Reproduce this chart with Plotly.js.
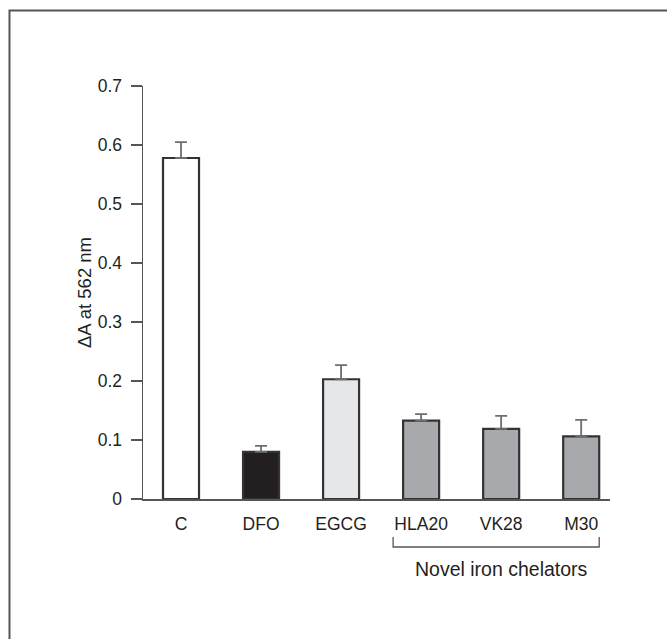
<!DOCTYPE html>
<html>
<head>
<meta charset="utf-8">
<script src="https://cdn.plot.ly/plotly-3.0.1.min.js"></script>
<style>html,body{margin:0;padding:0;background:#fff;}#chart{width:667px;height:639px;}</style>
</head>
<body>
<div id="chart"></div>
<script>
const categories = ["C", "DFO", "EGCG", "HLA20", "VK28", "M30"];
const values = [0.578, 0.080, 0.203, 0.133, 0.119, 0.106];
const errors = [0.027, 0.010, 0.024, 0.011, 0.022, 0.028];
const barColors = ["#ffffff", "#231f20", "#e6e7e8", "#a7a9ac", "#a7a9ac", "#a7a9ac"];
const yTicks = [0, 0.1, 0.2, 0.3, 0.4, 0.5, 0.6, 0.7];
const yTickLabels = ["0", "0.1", "0.2", "0.3", "0.4", "0.5", "0.6", "0.7"];
const groupLabel = "Novel iron chelators";
const groupStart = "HLA20", groupEnd = "M30";

const font = "Liberation Sans, Arial, sans-serif";
const i0 = categories.indexOf(groupStart), i1 = categories.indexOf(groupEnd);

const trace = {
  type: "bar",
  x: categories,
  y: values,
  width: 0.45,
  marker: {color: barColors, line: {color: "#333", width: 2.2}},
  error_y: {type: "data", array: errors, arrayminus: errors.map(() => 0), symmetric: false,
            color: "#6d6e71", thickness: 1.8, width: 6},
  hoverinfo: "none"
};

const layout = {
  width: 667, height: 639,
  margin: {l: 143, r: 57, t: 86, b: 140},
  paper_bgcolor: "#fff", plot_bgcolor: "#fff",
  showlegend: false,
  font: {family: font, color: "#231f20"},
  xaxis: {
    type: "category",
    range: [-0.475, 5.36],
    showgrid: false, zeroline: false,
    showline: true, linecolor: "#555", linewidth: 1.5,
    ticks: "", tickfont: {size: 17.5, family: font, color: "#231f20"},
    ticklabelstandoff: 8
  },
  yaxis: {
    range: [0, 0.7],
    tickvals: yTicks, ticktext: yTickLabels,
    showgrid: false, zeroline: false,
    showline: true, linecolor: "#555", linewidth: 1.5,
    ticks: "outside", ticklen: 11, tickwidth: 1.5, tickcolor: "#555",
    ticklabelstandoff: 5,
    tickfont: {size: 17.5, family: font, color: "#231f20"},
    title: {text: "ΔA at 562 nm", font: {size: 18.5, family: font, color: "#231f20"}, standoff: 1}
  },
  shapes: [
    {type: "rect", xref: "paper", yref: "paper", x0: -0.2859, x1: 1.5, y0: -1, y1: 1.1828,
     line: {color: "#555", width: 2}, fillcolor: "rgba(0,0,0,0)", layer: "below"},
    {type: "path", xref: "x", yref: "paper",
     path: `M ${i0 - 0.35} -0.092 L ${i0 - 0.35} -0.1162 L ${i1 + 0.225} -0.1162 L ${i1 + 0.225} -0.092`,
     line: {color: "#555", width: 1.3}}
  ],
  annotations: [
    {text: groupLabel, xref: "x", yref: "paper", x: (i0 + i1) / 2, y: -0.1695,
     showarrow: false, xanchor: "center", yanchor: "middle",
     font: {size: 19.5, family: font, color: "#231f20"}}
  ]
};

Plotly.newPlot("chart", [trace], layout, {staticPlot: true, displayModeBar: false});
</script>
</body>
</html>
